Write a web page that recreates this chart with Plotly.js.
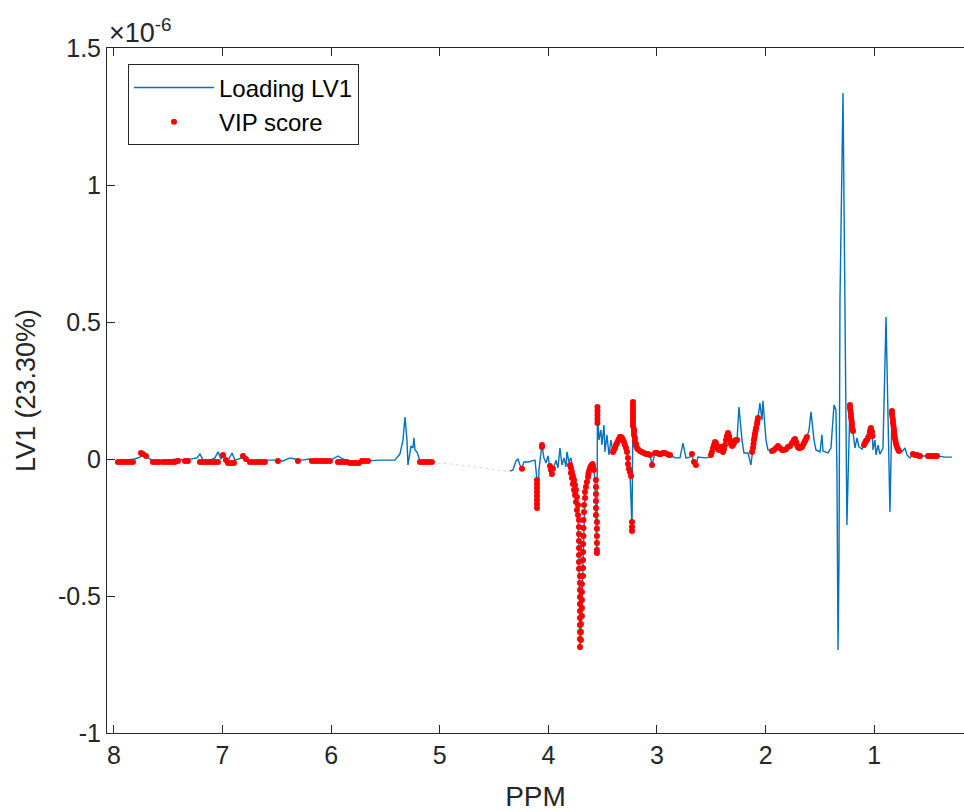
<!DOCTYPE html>
<html>
<head>
<meta charset="utf-8">
<script src="https://cdn.plot.ly/plotly-3.0.1.min.js"></script>
<style>html,body{margin:0;padding:0;background:#fff;overflow:hidden}</style>
</head>
<body>
<div id="chart" style="width:964px;height:812px"></div>
<script>
// Loading LV1, [ppm, value x1e-6], region 8.0 - 5.07 ppm
const loadingA = [[7.972,-0.004],[7.899,-0.004],[7.807,0],[7.761,0.007],[7.733,0.015],[7.696,0.007],[7.650,-0.004],[7.576,-0.007],[7.484,-0.004],[7.411,0],[7.346,-0.004],[7.282,0],[7.236,0.004],[7.208,0.018],[7.180,-0.004],[7.116,-0.004],[7.070,0.004],[7.042,0.026],[7.015,0],[6.987,0.015],[6.950,-0.007],[6.913,0.022],[6.886,-0.004],[6.821,0.004],[6.794,0.011],[6.748,-0.007],[6.656,-0.007],[6.582,-0.004],[6.518,-0.004],[6.444,-0.007],[6.379,0.004],[6.333,0],[6.269,-0.004],[6.195,0],[6.122,-0.007],[6.011,-0.007],[5.937,0.011],[5.891,0],[5.827,-0.011],[5.735,-0.011],[5.661,-0.007],[5.551,-0.004],[5.413,-0.004],[5.367,0.018],[5.339,0.069],[5.320,0.153],[5.302,0.069],[5.293,-0.022],[5.274,0.033],[5.265,0.047],[5.247,0.040],[5.238,0.077],[5.228,0.033],[5.210,0.026],[5.182,-0.007],[5.136,-0.011],[5.072,-0.011]];
// faint segment (excluded water region)
const loadingGap = [[5.072,-0.011],[5.044,-0.015],[4.906,-0.018],[4.722,-0.026],[4.538,-0.036],[4.354,-0.047]];
// region 4.35 - 0.28 ppm
const loadingC = [[4.354,-0.044],[4.326,-0.040],[4.298,-0.007],[4.280,0],[4.262,-0.022],[4.243,-0.033],[4.225,-0.011],[4.188,-0.011],[4.151,-0.007],[4.123,-0.004],[4.105,-0.077],[4.096,-0.179],[4.087,-0.040],[4.068,0.033],[4.059,0.051],[4.041,0.004],[4.022,-0.015],[4.004,0.011],[3.985,-0.033],[3.967,-0.055],[3.948,-0.026],[3.930,-0.004],[3.912,-0.033],[3.893,0.040],[3.875,-0.022],[3.856,0.004],[3.838,-0.029],[3.829,0.026],[3.810,-0.011],[3.792,0.004],[3.774,-0.040],[3.755,-0.069],[3.737,-0.113],[3.727,-0.186],[3.718,-0.369],[3.709,-0.686],[3.700,-0.640],[3.691,-0.500],[3.681,-0.330],[3.677,-0.240],[3.672,-0.180],[3.663,-0.130],[3.654,-0.100],[3.635,-0.060],[3.617,-0.033],[3.599,-0.020],[3.580,-0.040],[3.571,-0.077],[3.562,-0.259],[3.553,-0.343],[3.548,0.190],[3.534,0.069],[3.516,0.106],[3.507,0.051],[3.488,0.124],[3.479,0.026],[3.461,0.088],[3.442,0.015],[3.424,0.069],[3.405,0.022],[3.378,0.051],[3.341,0.080],[3.304,0.062],[3.276,0.026],[3.267,-0.018],[3.249,-0.047],[3.239,-0.150],[3.230,-0.259],[3.221,0.208],[3.212,0.109],[3.193,0.050],[3.157,0.029],[3.111,0.018],[3.064,0.015],[3.046,-0.022],[3.018,0.022],[2.972,0.018],[2.926,0.022],[2.880,0.015],[2.834,0.004],[2.788,0.004],[2.761,0.058],[2.733,0.004],[2.696,0.007],[2.678,0.018],[2.659,-0.015],[2.641,-0.022],[2.623,0.007],[2.558,0.004],[2.512,0.007],[2.503,0.015],[2.484,0.040],[2.466,0.062],[2.448,0.047],[2.429,0.033],[2.411,0.044],[2.392,0.026],[2.374,0.051],[2.346,0.095],[2.319,0.055],[2.300,0.051],[2.273,0.069],[2.263,0.069],[2.245,0.190],[2.217,0.069],[2.199,0.022],[2.162,0.022],[2.135,-0.022],[2.125,0.026],[2.116,0.040],[2.088,0.113],[2.070,0.150],[2.052,0.204],[2.033,0.142],[2.024,0.212],[1.996,0.069],[1.978,0.033],[1.941,0.029],[1.904,0.040],[1.886,0.047],[1.849,0.033],[1.812,0.036],[1.775,0.047],[1.739,0.069],[1.729,0.073],[1.702,0.044],[1.683,0.040],[1.656,0.051],[1.619,0.080],[1.600,0.106],[1.582,0.172],[1.554,0.069],[1.536,0.033],[1.499,0.026],[1.481,0.088],[1.472,0.029],[1.426,0.022],[1.398,0.040],[1.370,0.197],[1.352,0.179],[1.343,-0.040],[1.333,-0.697],[1.324,-0.369],[1.315,0.580],[1.306,0.861],[1.297,0.945],[1.287,1.336],[1.278,0.945],[1.260,0.033],[1.251,-0.241],[1.241,-0.077],[1.232,0.117],[1.223,0.197],[1.214,0.160],[1.195,0.102],[1.177,0.040],[1.158,0.077],[1.140,0.044],[1.112,0.036],[1.094,0.051],[1.066,0.069],[1.048,0.084],[1.030,0.113],[1.016,0.084],[1.011,0.033],[0.993,0.069],[0.983,0.015],[0.965,0.051],[0.947,0.018],[0.919,0.040],[0.891,0.518],[0.873,0.215],[0.855,-0.193],[0.836,0.175],[0.818,0.109],[0.799,0.055],[0.781,0.036],[0.744,0.026],[0.717,0.040],[0.698,0.015],[0.670,0.004],[0.643,0.018],[0.624,0.015],[0.578,0.011],[0.505,0.011],[0.422,0.011],[0.348,0.007],[0.284,0.007]];
// VIP score points [ppm, value x1e-6]
const vipA = [[7.963,-0.011],[7.936,-0.011],[7.908,-0.011],[7.880,-0.011],[7.853,-0.011],[7.825,-0.011],[7.751,0.022],[7.733,0.018],[7.705,0.011],[7.641,-0.011],[7.613,-0.011],[7.586,-0.011],[7.549,-0.011],[7.521,-0.011],[7.494,-0.011],[7.466,-0.011],[7.438,-0.011],[7.411,-0.007],[7.346,-0.007],[7.319,-0.007],[7.208,-0.011],[7.180,-0.011],[7.153,-0.011],[7.125,-0.011],[7.098,-0.011],[7.070,-0.011],[7.042,-0.011],[6.996,0.015],[6.969,-0.004],[6.950,-0.015],[6.923,-0.015],[6.895,-0.015],[6.812,0.011],[6.785,0],[6.748,-0.011],[6.720,-0.011],[6.692,-0.011],[6.665,-0.011],[6.637,-0.011],[6.610,-0.011],[6.490,-0.007],[6.306,-0.007],[6.177,-0.007],[6.149,-0.007],[6.122,-0.007],[6.094,-0.007],[6.066,-0.007],[6.039,-0.007],[6.011,-0.007],[5.937,-0.011],[5.910,-0.011],[5.882,-0.011],[5.855,-0.011],[5.827,-0.015],[5.799,-0.015],[5.772,-0.015],[5.744,-0.015],[5.716,-0.007],[5.689,-0.007],[5.661,-0.007],[5.182,-0.011],[5.155,-0.011],[5.127,-0.011],[5.099,-0.011],[5.072,-0.011]];
const vipC = [[4.243,-0.036],[4.105,-0.077],[4.105,-0.091],[4.105,-0.106],[4.105,-0.120],[4.105,-0.135],[4.105,-0.150],[4.105,-0.164],[4.105,-0.179],[4.059,0.051],[4.059,0.044],[3.985,-0.026],[3.976,-0.040],[3.967,-0.055],[3.958,-0.036],
[3.801,-0.022],[3.792,-0.033],[3.792,-0.051],[3.783,-0.047],[3.783,-0.069],[3.774,-0.062],[3.774,-0.091],[3.764,-0.077],[3.764,-0.113],[3.755,-0.095],[3.755,-0.131],[3.746,-0.113],[3.746,-0.157],[3.737,-0.139],[3.737,-0.186],[3.727,-0.168],[3.727,-0.204],
[3.718,-0.223],[3.718,-0.248],[3.718,-0.274],[3.718,-0.299],[3.718,-0.325],[3.718,-0.350],[3.718,-0.376],[3.718,-0.401],[3.709,-0.427],[3.709,-0.453],[3.709,-0.478],[3.709,-0.504],[3.709,-0.529],[3.709,-0.555],[3.709,-0.580],[3.709,-0.606],[3.709,-0.631],[3.709,-0.657],[3.709,-0.686],
[3.700,-0.661],[3.700,-0.631],[3.700,-0.602],[3.691,-0.573],[3.691,-0.544],[3.691,-0.515],[3.691,-0.485],[3.691,-0.456],[3.681,-0.427],[3.681,-0.398],[3.681,-0.369],[3.681,-0.339],[3.681,-0.310],[3.677,-0.281],[3.677,-0.252],[3.677,-0.223],[3.672,-0.193],[3.672,-0.168],[3.663,-0.142],[3.663,-0.120],[3.654,-0.102],[3.645,-0.084],[3.635,-0.066],[3.631,-0.055],[3.626,-0.044],[3.617,-0.033],[3.608,-0.026],[3.599,-0.022],[3.594,-0.018],[3.589,-0.026],[3.580,-0.040],
[3.562,-0.077],[3.562,-0.102],[3.562,-0.128],[3.562,-0.153],[3.562,-0.179],[3.562,-0.204],[3.553,-0.230],[3.553,-0.255],[3.553,-0.281],[3.553,-0.307],[3.553,-0.332],[3.553,-0.343],[3.548,0.190],[3.548,0.175],[3.548,0.161],[3.548,0.146],[3.548,0.131],
[3.405,0.026],[3.396,0.033],[3.387,0.040],[3.378,0.051],[3.368,0.058],[3.359,0.066],[3.350,0.073],[3.341,0.080],[3.332,0.080],[3.322,0.077],[3.313,0.069],[3.304,0.062],[3.295,0.051],[3.285,0.040],[3.276,0.026],[3.267,0.004],[3.267,-0.018],[3.258,-0.036],[3.249,-0.047],[3.239,-0.062],[3.230,-0.230],[3.230,-0.248],[3.230,-0.263],
[3.221,0.208],[3.221,0.197],[3.221,0.186],[3.221,0.175],[3.221,0.164],[3.221,0.153],[3.221,0.142],[3.221,0.131],[3.221,0.120],[3.212,0.109],[3.212,0.099],[3.212,0.088],[3.203,0.077],[3.203,0.066],[3.193,0.055],[3.193,0.047],[3.184,0.040],[3.175,0.036],[3.157,0.029],[3.138,0.026],[3.120,0.022],[3.101,0.018],[3.083,0.018],[3.064,0.015],[3.046,-0.022],
[3.018,0.022],[3.000,0.022],[2.981,0.018],[2.963,0.018],[2.945,0.022],[2.926,0.022],[2.908,0.018],[2.889,0.015],[2.880,0.015],[2.678,0.018],[2.659,-0.011],[2.641,-0.022],
[2.503,0.015],[2.494,0.026],[2.484,0.040],[2.475,0.051],[2.466,0.062],[2.457,0.058],[2.448,0.047],[2.438,0.036],[2.429,0.033],[2.420,0.040],[2.411,0.044],[2.402,0.036],[2.392,0.026],[2.383,0.036],[2.374,0.051],[2.365,0.069],[2.356,0.084],[2.346,0.095],[2.337,0.084],[2.328,0.069],[2.319,0.055],[2.309,0.047],[2.300,0.051],[2.291,0.058],[2.282,0.066],[2.273,0.069],[2.263,0.069],
[2.125,0.026],[2.116,0.040],[2.111,0.055],[2.107,0.069],[2.102,0.080],[2.098,0.091],[2.093,0.102],[2.088,0.113],[2.079,0.128],[2.075,0.139],[2.070,0.150],
[1.941,0.029],[1.923,0.033],[1.904,0.040],[1.886,0.047],[1.868,0.040],[1.849,0.033],[1.831,0.033],[1.812,0.036],[1.794,0.044],[1.775,0.047],[1.757,0.058],[1.739,0.069],[1.729,0.073],[1.720,0.062],[1.711,0.051],[1.702,0.044],[1.693,0.040],[1.683,0.040],[1.674,0.044],[1.665,0.044],[1.656,0.051],[1.646,0.058],[1.637,0.066],[1.628,0.073],[1.619,0.080],
[1.223,0.197],[1.223,0.186],[1.218,0.175],[1.214,0.164],[1.214,0.153],[1.209,0.142],[1.205,0.131],[1.205,0.120],[1.200,0.109],[1.195,0.102],
[1.094,0.051],[1.085,0.058],[1.076,0.066],[1.066,0.069],[1.057,0.077],[1.048,0.084],[1.039,0.099],[1.034,0.109],[1.030,0.113],[1.020,0.099],[1.016,0.084],
[0.836,0.175],[0.836,0.164],[0.832,0.153],[0.827,0.142],[0.827,0.131],[0.822,0.120],[0.818,0.109],[0.818,0.099],[0.813,0.088],[0.809,0.077],[0.804,0.066],[0.799,0.055],[0.790,0.044],[0.781,0.036],[0.772,0.029],
[0.643,0.018],[0.624,0.015],[0.606,0.015],[0.588,0.011],[0.578,0.011],[0.505,0.011],[0.486,0.011],[0.468,0.011],[0.449,0.011],[0.431,0.011],[0.422,0.011]];
const yTicks = [-1,-0.5,0,0.5,1,1.5];
const yTickText = ['-1','-0.5','0','0.5','1','1.5'];
const xTicks = [8,7,6,5,4,3,2,1];

const col = (arr, i) => arr.map(p => p[i]);
const lineX = col(loadingA,0).concat([null], col(loadingC,0));
const lineY = col(loadingA,1).concat([null], col(loadingC,1));
const vip = vipA.concat(vipC);

const font = 'Liberation Sans, Arial, Helvetica, sans-serif';
const dark = '#262626';

const traces = [
  {x: col(loadingGap,0), y: col(loadingGap,1), type: 'scatter', mode: 'lines', showlegend: false, hoverinfo: 'skip',
   line: {color: 'rgba(0,114,189,0.25)', width: 1, dash: 'dot'}},
  {x: lineX, y: lineY, type: 'scatter', mode: 'lines', name: 'Loading LV1',
   line: {color: '#0072BD', width: 1.4}, connectgaps: false},
  {x: col(vip,0), y: col(vip,1), type: 'scatter', mode: 'markers', name: 'VIP score',
   marker: {color: '#FF0000', size: 6}}
];

const layout = {
  width: 964, height: 812,
  margin: {l: 107, r: 0, t: 48, b: 79},
  paper_bgcolor: '#fff', plot_bgcolor: '#fff',
  font: {family: font, color: dark, size: 24},
  showlegend: true,
  legend: {x: 0.0245, y: 0.976, xanchor: 'left', yanchor: 'top',
    bgcolor: '#fff', bordercolor: dark, borderwidth: 1,
    font: {family: font, size: 24, color: '#000'}, itemwidth: 80, tracegroupgap: 0},
  xaxis: {range: [8.064, 0.173], tickvals: xTicks, ticks: 'inside', ticklen: 8,
    tickcolor: dark, showline: true, linecolor: dark, linewidth: 1, mirror: 'ticks',
    showgrid: false, zeroline: false, tickfont: {size: 25, family: font, color: dark},
    title: {text: 'PPM', font: {size: 28, family: font, color: dark}, standoff: 18}},
  yaxis: {range: [-1, 1.5], tickvals: yTicks, ticktext: yTickText, ticks: 'inside', ticklen: 8,
    tickcolor: dark, showline: true, linecolor: dark, linewidth: 1, mirror: false,
    showgrid: false, zeroline: false, tickfont: {size: 25, family: font, color: dark},
    title: {text: 'LV1 (23.30%)', font: {size: 27, family: font, color: dark}, standoff: 14}},
  annotations: [{xref: 'paper', yref: 'paper', x: 0, y: 1, xanchor: 'left', yanchor: 'bottom',
    text: '×10<sup>-6</sup>', showarrow: false, font: {size: 27, family: font, color: dark}, yshift: -2}]
};

Plotly.newPlot('chart', traces, layout, {displayModeBar: false, staticPlot: true});
</script>
</body>
</html>
